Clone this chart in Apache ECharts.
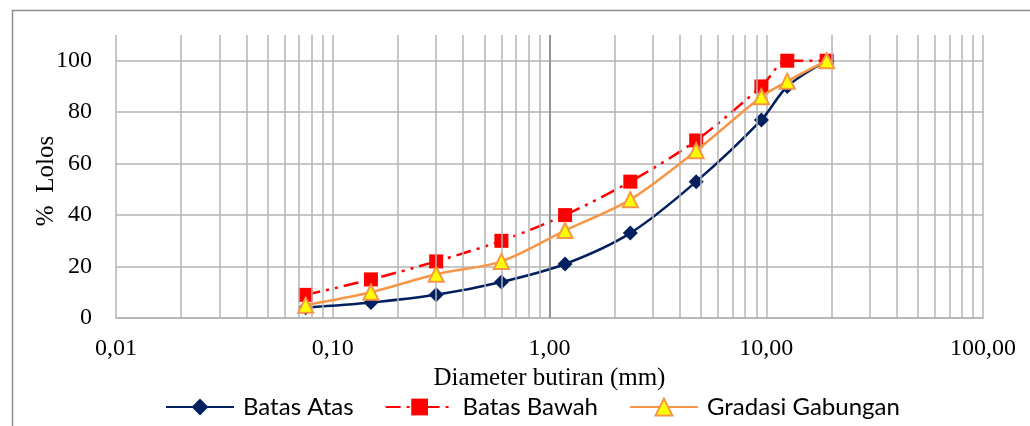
<!DOCTYPE html>
<html>
<head>
<meta charset="utf-8">
<script src="https://cdn.jsdelivr.net/npm/echarts@6/dist/echarts.min.js"></script>
<style>
html,body{margin:0;padding:0;background:#fff;}
#chart{width:1030px;height:426px;}
</style>
</head>
<body>
<div id="chart"></div>
<script>
// ---- data ----
const sieveSizes = [0.075, 0.15, 0.3, 0.6, 1.18, 2.36, 4.75, 9.5, 12.5, 19];
const batasAtas = [4, 6, 9, 14, 21, 33, 53, 77, 90, 100];
const batasBawah = [9, 15, 22, 30, 40, 53, 69, 90, 100, 100];
const gradasiGabungan = [5, 10, 17, 22, 34, 46, 65, 86, 92, 100];
const seriesNames = ['Batas Atas', 'Batas Bawah', 'Gradasi Gabungan'];
const xTickValues = [0.01, 0.1, 1, 10, 100];
const xTickLabels = ['0,01', '0,10', '1,00', '10,00', '100,00'];
const yTickValues = [0, 20, 40, 60, 80, 100];
const xAxisTitle = 'Diameter butiran (mm)';
const yAxisTitle = '%  Lolos';

// ---- minor log gridlines (2..9 per decade) ----
const minorGrid = [];
for (let d = 0.01; d < 99; d *= 10) {
  for (let k = 2; k <= 9; k++) minorGrid.push(+(k * d).toPrecision(3));
}
const pairs = (ys) => sieveSizes.map((x, i) => [x, ys[i]]);

const gridColor = '#b4b4b4';
const serif = '"Liberation Serif", "DejaVu Serif", serif';
const sans = 'Lato, "Open Sans", sans-serif';

const chart = echarts.init(document.getElementById('chart'), null, {renderer: 'canvas'});
chart.setOption({
  animation: false,
  backgroundColor: '#fff',
  graphic: [{
    type: 'rect', left: 10, top: 8, z: 0,
    shape: {width: 1100, height: 500},
    style: {fill: 'none', stroke: '#8e8e8e', lineWidth: 1.5}
  }, {
    type: 'text', x: 46, y: 181, rotation: Math.PI / 2, z: 10,
    style: {text: yAxisTitle, fontFamily: serif, fontSize: 25, fill: '#000', align: 'center', verticalAlign: 'middle'}
  }],
  grid: {left: 116, right: 47, top: 35, bottom: 108, containLabel: false},
  legend: {
    data: seriesNames,
    bottom: 2,
    left: 160,
    itemWidth: 68,
    itemHeight: 21,
    itemGap: 31,
    textStyle: {fontFamily: sans, fontSize: 24, color: '#000', padding: [0, 0, 0, 4]}
  },
  xAxis: {
    type: 'log', logBase: 10, min: 0.01, max: 100,
    name: xAxisTitle, nameLocation: 'middle', nameGap: 47,
    nameTextStyle: {fontFamily: serif, fontSize: 25, color: '#000'},
    axisLine: {show: true, lineStyle: {color: gridColor, width: 1.5}},
    axisTick: {show: false},
    axisLabel: {
      margin: 19, fontFamily: serif, fontSize: 24, color: '#000',
      formatter: (v) => {
        const i = xTickValues.findIndex(t => Math.abs(Math.log10(t) - Math.log10(v)) < 1e-6);
        return i >= 0 ? xTickLabels[i] : '';
      }
    },
    splitLine: {show: true, lineStyle: {color: gridColor, width: 1.5}}
  },
  yAxis: {
    type: 'value', min: 0, max: 110, interval: 20,
    axisLine: {show: false},
    axisTick: {show: false},
    axisLabel: {
      margin: 24, fontFamily: serif, fontSize: 24, color: '#000',
      formatter: (v) => yTickValues.indexOf(v) >= 0 ? String(v) : ''
    },
    splitLine: {show: true, lineStyle: {
      color: [gridColor, gridColor, gridColor, gridColor, gridColor, gridColor, 'rgba(0,0,0,0)'],
      width: 1.5
    }}
  },
  series: [
    {
      name: '_grid', type: 'line', data: [], silent: true, z: 1,
      markLine: {
        silent: true, symbol: ['none', 'none'], label: {show: false},
        lineStyle: {color: gridColor, width: 1.5, type: 'solid'},
        emphasis: {disabled: true},
        data: minorGrid.map(v => ({xAxis: v})).concat([{xAxis: 1, lineStyle: {color: '#858585', width: 1.5, type: 'solid'}}])
      }
    },
    {
      name: seriesNames[0], type: 'line', z: 3, smooth: 0.3,
      data: pairs(batasAtas),
      symbol: 'diamond', symbolSize: 15,
      itemStyle: {color: '#002060'},
      lineStyle: {color: '#002060', width: 2.5}
    },
    {
      name: seriesNames[1], type: 'line', z: 4, smooth: 0.3,
      data: pairs(batasBawah),
      symbol: 'rect', symbolSize: 14,
      itemStyle: {color: '#ff0000'},
      lineStyle: {color: '#ff0000', width: 2.5, type: [15, 6, 3, 6, 3, 6]}
    },
    {
      name: seriesNames[2], type: 'line', z: 5, smooth: 0.3,
      data: pairs(gradasiGabungan),
      symbol: 'triangle', symbolSize: 15,
      itemStyle: {color: '#ffff00', borderColor: '#f79646', borderWidth: 2},
      lineStyle: {color: '#f79646', width: 2.5}
    }
  ]
});
</script>
</body>
</html>
